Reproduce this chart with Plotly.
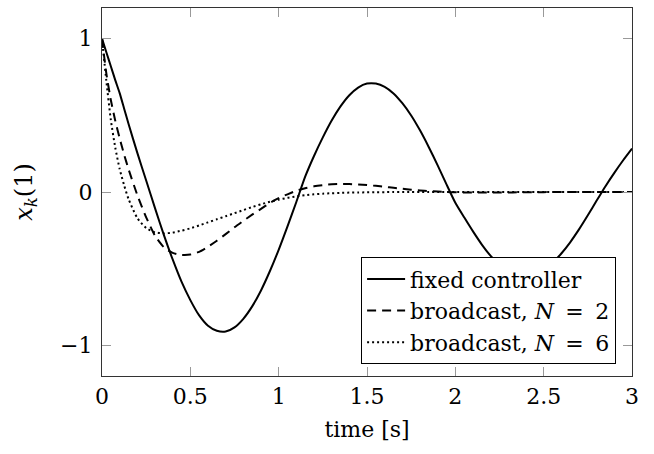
import plotly.graph_objects as go

# time samples [s]
t = [0, 0.025, 0.05, 0.075, 0.1, 0.125, 0.15,
     0.2, 0.25, 0.3, 0.35, 0.4, 0.45, 0.5, 0.55, 0.6, 0.65, 0.7, 0.75, 0.8, 0.85, 0.9, 0.95,
     1.0, 1.05, 1.1, 1.15, 1.2, 1.25, 1.3, 1.35, 1.4, 1.45, 1.5, 1.55, 1.6, 1.65, 1.7, 1.75,
     1.8, 1.85, 1.9, 1.95, 2.0, 2.05, 2.1, 2.15, 2.2, 2.25, 2.3, 2.35, 2.4, 2.45, 2.5, 2.55,
     2.6, 2.65, 2.7, 2.75, 2.8, 2.85, 2.9, 2.95, 3.0]

fixed_controller = [1.0, 0.91, 0.82, 0.73, 0.645, 0.545, 0.445,
                    0.255, 0.075, -0.105, -0.28, -0.44, -0.585, -0.705, -0.805, -0.872, -0.905,
                    -0.91, -0.883, -0.827, -0.746, -0.642, -0.517,
                    -0.377, -0.224, -0.065, 0.1, 0.235, 0.356, 0.466, 0.558, 0.631, 0.681, 0.707,
                    0.707, 0.686, 0.643, 0.579, 0.499,
                    0.402, 0.292, 0.174, 0.05, -0.07, -0.165, -0.257, -0.343, -0.417, -0.476,
                    -0.519, -0.544, -0.55, -0.537, -0.508, -0.462,
                    -0.401, -0.328, -0.244, -0.152, -0.056, 0.038, 0.125, 0.207, 0.283]

broadcast_n2 = [1.0, 0.77, 0.60, 0.465, 0.35, 0.245, 0.15,
                -0.02, -0.165, -0.285, -0.36, -0.397, -0.41, -0.408, -0.39, -0.357, -0.318,
                -0.275, -0.23, -0.188, -0.148, -0.11, -0.072,
                -0.04, -0.015, 0.008, 0.025, 0.037, 0.045, 0.05, 0.052, 0.052, 0.049, 0.045,
                0.04, 0.034, 0.027, 0.021, 0.015,
                0.01, 0.006, 0.003, 0.0, -0.002, -0.003, -0.004, -0.004, -0.004, -0.003,
                -0.003, -0.002, -0.002, -0.001, -0.001, 0.0,
                0.0, 0.0, 0.0, 0.0, 0.0, 0.0, 0.0, 0.0, 0.0]

broadcast_n6 = [1.0, 0.72, 0.47, 0.29, 0.15, 0.045, -0.045,
                -0.17, -0.235, -0.263, -0.27, -0.265, -0.252, -0.237, -0.218, -0.198, -0.178,
                -0.158, -0.138, -0.118, -0.098, -0.08, -0.064,
                -0.05, -0.038, -0.029, -0.021, -0.015, -0.011, -0.008, -0.006, -0.004, -0.003,
                -0.002, -0.001, -0.001, 0.0, 0.0, 0.0,
                0.0, 0.0, 0.0, 0.0, 0.0, 0.0, 0.0, 0.0, 0.0, 0.0,
                0.0, 0.0, 0.0, 0.0, 0.0, 0.0,
                0.0, 0.0, 0.0, 0.0, 0.0, 0.0, 0.0, 0.0, 0.0]

x_ticks = [0, 0.5, 1, 1.5, 2, 2.5, 3]
x_ticklabels = ["0", "0.5", "1", "1.5", "2", "2.5", "3"]
y_ticks = [-1, 0, 1]
y_ticklabels = ["\u22121", "0", "1"]

names = ["fixed controller",
         "broadcast, <i>N</i>\u00a0\u2009=\u00a0\u20092",
         "broadcast, <i>N</i>\u00a0\u2009=\u00a0\u20096"]

FONT = "DejaVu Serif"
FS = 22

fig = go.Figure()
fig.add_trace(go.Scatter(x=t, y=fixed_controller, mode="lines", name=names[0],
                         line=dict(color="black", width=2, shape="spline", smoothing=0.6)))
fig.add_trace(go.Scatter(x=t, y=broadcast_n2, mode="lines", name=names[1],
                         line=dict(color="black", width=2, dash="9px,6px", shape="spline", smoothing=0.6)))
fig.add_trace(go.Scatter(x=t, y=broadcast_n6, mode="lines", name=names[2],
                         line=dict(color="black", width=2, dash="2px,3px", shape="spline", smoothing=0.6)))

axis_common = dict(
    showline=True, linecolor="#333", linewidth=1.3, mirror="allticks",
    ticks="inside", ticklen=9, tickcolor="#999", tickwidth=1,
    showgrid=False, zeroline=False,
    tickfont=dict(family=FONT, size=FS, color="black"),
)

fig.update_xaxes(range=[0, 3], tickvals=x_ticks, ticktext=x_ticklabels,
                 title=dict(text="time [s]", font=dict(family=FONT, size=FS, color="black"), standoff=14),
                 ticklabelstandoff=0, **axis_common)
fig.update_yaxes(range=[-1.2, 1.2], tickvals=y_ticks, ticktext=y_ticklabels,
                 title=dict(text="<i>x</i><sub><i>k</i></sub>(1)", font=dict(family=FONT, size=24, color="black"), standoff=20),
                 ticklabelstandoff=4, **axis_common)

fig.update_layout(
    width=654, height=454,
    margin=dict(l=102, r=22, t=8, b=78),
    plot_bgcolor="white", paper_bgcolor="white",
    font=dict(family=FONT, size=FS, color="black"),
    legend=dict(x=0.97, y=0.032, xanchor="right", yanchor="bottom",
                bgcolor="white", bordercolor="black", borderwidth=1,
                font=dict(family=FONT, size=FS, color="black"),
                tracegroupgap=0, itemwidth=38),
    showlegend=True,
)

fig.write_html("out.html")
